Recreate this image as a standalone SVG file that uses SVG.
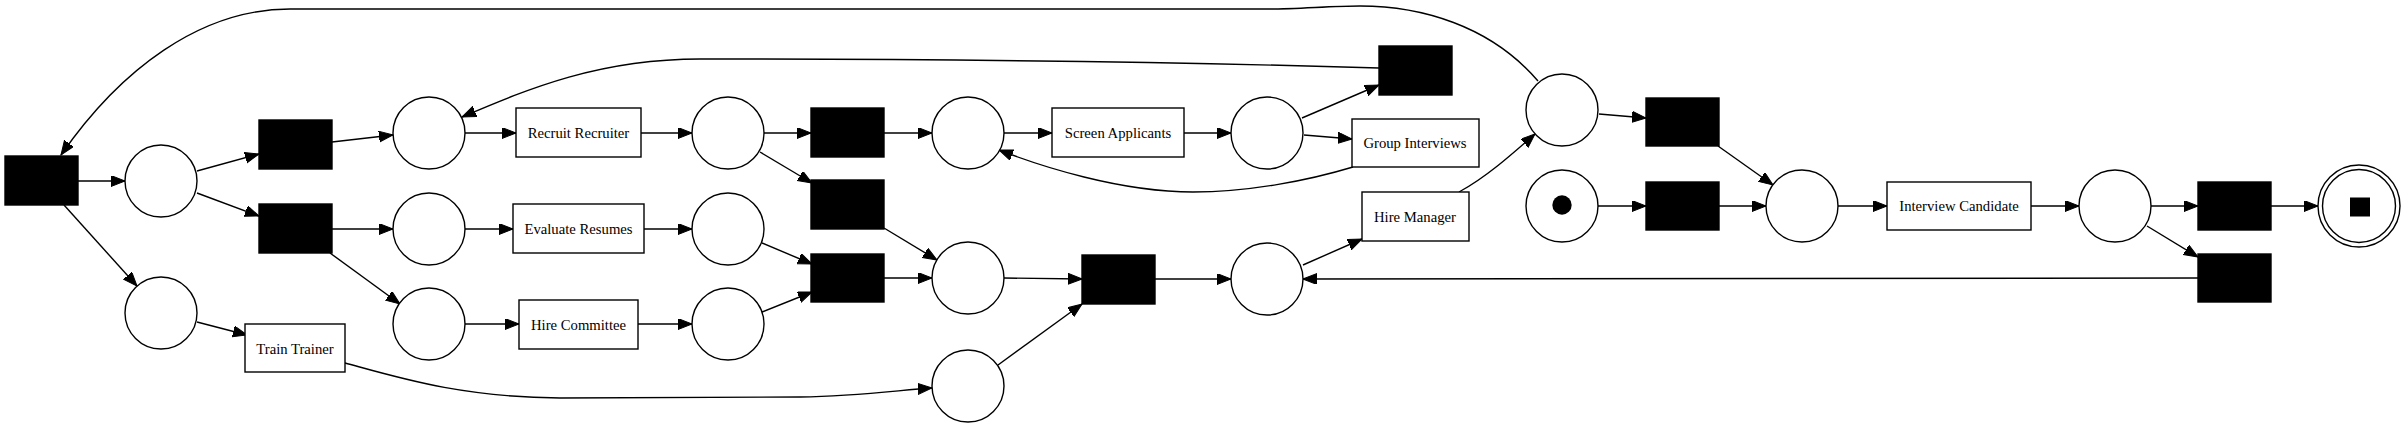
<svg xmlns="http://www.w3.org/2000/svg" width="2407" height="427" viewBox="0 0 2407 427">
<style>
.p{fill:#fff;stroke:#000;stroke-width:1.4}
.t{fill:#000;stroke:#000;stroke-width:1.4}
.b{fill:#fff;stroke:#000;stroke-width:1.4}
.e{fill:none;stroke:#000;stroke-width:1.4;marker-end:url(#ah)}
text{font-family:"Liberation Serif","Times New Roman",serif;font-size:14.7px;text-anchor:middle;fill:#000}
</style>
<defs>
<marker id="ah" markerUnits="userSpaceOnUse" markerWidth="15" markerHeight="12" refX="14" refY="5.5" orient="auto" viewBox="0 0 15 12">
<path d="M0,0 L14,5.5 L0,11 z" fill="#000" stroke="#000" stroke-width="1"/>
</marker>
</defs>
<rect width="2407" height="427" fill="#fff"/>
<g id="connectors">
<path class="e" d="M78,181 L125,181"/>
<path class="e" d="M64,205 L137,286"/>
<path class="e" d="M197,171 L259,154"/>
<path class="e" d="M197,193 L259,216"/>
<path class="e" d="M332,142 L393,135"/>
<path class="e" d="M332,229 L393,229"/>
<path class="e" d="M330,253 L400,304"/>
<path class="e" d="M197,322 L247,335"/>
<path class="e" d="M345,363 C400,378 460,397 560,398 L800,397 C860,396 900,390 932,388"/>
<path class="e" d="M465,133 L516,133"/>
<path class="e" d="M465,229 L513,229"/>
<path class="e" d="M465,324 L519,324"/>
<path class="e" d="M641,133 L692,133"/>
<path class="e" d="M644,229 L692,229"/>
<path class="e" d="M638,324 L692,324"/>
<path class="e" d="M764,133 L811,133"/>
<path class="e" d="M760,152 L812,183"/>
<path class="e" d="M762,243 L812,264"/>
<path class="e" d="M762,312 L812,292"/>
<path class="e" d="M884,133 L932,133"/>
<path class="e" d="M884,228 L937,260"/>
<path class="e" d="M884,278 L932,278"/>
<path class="e" d="M1004,133 L1052,133"/>
<path class="e" d="M1184,133 L1231,133"/>
<path class="e" d="M1302,118 L1379,85"/>
<path class="e" d="M1304,135 L1352,139"/>
<path class="e" d="M1353,167 C1310,180 1250,192 1193,192 C1120,192 1040,166 999,150"/>
<path class="e" d="M1379,68 C1150,61 900,59 700,59 C600,59 530,88 462,117"/>
<path class="e" d="M1004,278 L1082,279"/>
<path class="e" d="M998,365 L1082,304"/>
<path class="e" d="M1155,279 L1231,279"/>
<path class="e" d="M1303,265 L1362,239"/>
<path class="e" d="M2198,278 L1303,279"/>
<path class="e" d="M1459,192 C1485,178 1510,156 1535,134"/>
<path class="e" d="M1538,81 C1490,25 1420,6 1360,6 C1330,6 1300,9 1270,9 L290,9 C200,9 120,70 61,155"/>
<path class="e" d="M1599,114 L1646,118"/>
<path class="e" d="M1718,146 L1773,185"/>
<path class="e" d="M1598,206 L1646,206"/>
<path class="e" d="M1719,206 L1766,206"/>
<path class="e" d="M1838,206 L1887,206"/>
<path class="e" d="M2031,206 L2079,206"/>
<path class="e" d="M2151,206 L2198,206"/>
<path class="e" d="M2147,226 L2198,257"/>
<path class="e" d="M2271,206 L2318,206"/>
</g>
<g id="T0"><rect class="t" x="5" y="156" width="73" height="49"/></g>
<g id="P1"><circle class="p" cx="161" cy="181" r="36"/></g>
<g id="P2"><circle class="p" cx="161" cy="313" r="36"/></g>
<g id="T1"><rect class="t" x="259" y="120" width="73" height="49"/></g>
<g id="T2"><rect class="t" x="259" y="204" width="73" height="49"/></g>
<g id="TrainTrainer"><rect class="b" x="245" y="324" width="100" height="48"/><text x="295" y="353.5">Train Trainer</text></g>
<g id="P3"><circle class="p" cx="429" cy="133" r="36"/></g>
<g id="P4"><circle class="p" cx="429" cy="229" r="36"/></g>
<g id="P5"><circle class="p" cx="429" cy="324" r="36"/></g>
<g id="RecruitRecruiter"><rect class="b" x="516" y="108" width="125" height="49"/><text x="578.5" y="137.5">Recruit Recruiter</text></g>
<g id="EvaluateResumes"><rect class="b" x="513" y="204" width="131" height="49"/><text x="578.5" y="233.7">Evaluate Resumes</text></g>
<g id="HireCommittee"><rect class="b" x="519" y="300" width="119" height="49"/><text x="578.5" y="329.5">Hire Committee</text></g>
<g id="P6"><circle class="p" cx="728" cy="133" r="36"/></g>
<g id="P7"><circle class="p" cx="728" cy="229" r="36"/></g>
<g id="P8"><circle class="p" cx="728" cy="324" r="36"/></g>
<g id="T3"><rect class="t" x="811" y="108" width="73" height="49"/></g>
<g id="T4"><rect class="t" x="811" y="180" width="73" height="49"/></g>
<g id="T5"><rect class="t" x="811" y="254" width="73" height="48"/></g>
<g id="P9"><circle class="p" cx="968" cy="133" r="36"/></g>
<g id="P10"><circle class="p" cx="968" cy="278" r="36"/></g>
<g id="P11"><circle class="p" cx="968" cy="386" r="36"/></g>
<g id="ScreenApplicants"><rect class="b" x="1052" y="108" width="132" height="49"/><text x="1118" y="137.5">Screen Applicants</text></g>
<g id="P12"><circle class="p" cx="1267" cy="133" r="36"/></g>
<g id="T6"><rect class="t" x="1379" y="46" width="73" height="49"/></g>
<g id="GroupInterviews"><rect class="b" x="1352" y="119" width="127" height="48"/><text x="1415" y="148">Group Interviews</text></g>
<g id="HireManager"><rect class="b" x="1362" y="192" width="107" height="49"/><text x="1415" y="221.5">Hire Manager</text></g>
<g id="T7"><rect class="t" x="1082" y="255" width="73" height="49"/></g>
<g id="P13"><circle class="p" cx="1267" cy="279" r="36"/></g>
<g id="P14"><circle class="p" cx="1562" cy="110" r="36"/></g>
<g id="P15"><circle class="p" cx="1562" cy="206" r="36"/><circle cx="1562" cy="205" r="9.7" fill="#000"/></g>
<g id="T8"><rect class="t" x="1646" y="98" width="73" height="48"/></g>
<g id="T9"><rect class="t" x="1646" y="182" width="73" height="48"/></g>
<g id="P16"><circle class="p" cx="1802" cy="206" r="36"/></g>
<g id="InterviewCandidate"><rect class="b" x="1887" y="182" width="144" height="48"/><text x="1959" y="211">Interview Candidate</text></g>
<g id="P17"><circle class="p" cx="2115" cy="206" r="36"/></g>
<g id="T10"><rect class="t" x="2198" y="182" width="73" height="48"/></g>
<g id="T11"><rect class="t" x="2198" y="254" width="73" height="48"/></g>
<g id="End"><circle class="p" cx="2359" cy="206" r="41"/><circle class="p" cx="2359" cy="206" r="36.5"/><rect x="2350" y="197.5" width="20" height="19" fill="#000"/></g>
</svg>
